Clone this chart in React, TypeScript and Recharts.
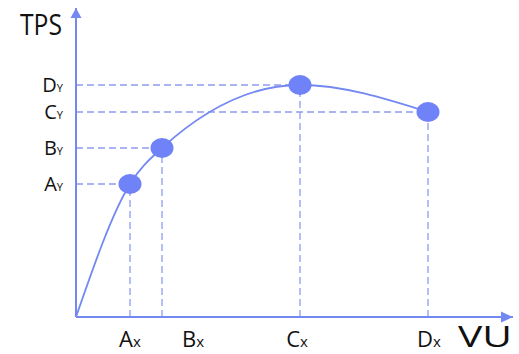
import React from "react";
import {
  ComposedChart,
  Line,
  XAxis,
  YAxis,
  ReferenceLine,
  ReferenceDot,
} from "recharts";

// Load (VU) vs throughput (TPS) curve, in relative units
const pointNames = ["A", "B", "C", "D"];
const vuValues = [54, 86, 224, 352];
const tpsValues = [133, 169, 232, 205];
const xTickLabels = ["A", "B", "C", "D"];
// TPS ticks are lettered from the bottom up
const yTickValues = [133, 169, 205, 232];
const yTickLabels = ["A", "B", "C", "D"];
const VU_MAX = 437;
const TPS_MAX = 309;

const curve = [{ x: 0, y: 0, name: "O" }].concat(
  pointNames.map((name, i) => ({ x: vuValues[i], y: tpsValues[i], name }))
);

const AXIS = "#7488f2";
const DASH = "#8e9cf0";
const DOT = "#6f82f8";
const FONT = "'Open Sans', 'DejaVu Sans', sans-serif";

// Bx sits a little to the right of its guide line
const xLabelShift: Record<string, number> = { A: 0, B: 31, C: -3, D: 1 };

const XTick = (props: any) => {
  const { x, y, payload } = props;
  const idx = vuValues.indexOf(payload.value);
  const letter = xTickLabels[idx];
  return (
    <text
      x={x + (xLabelShift[letter] || 0)}
      y={y}
      dy={30}
      textAnchor="middle"
      fill="#111"
      fontFamily={FONT}
    >
      <tspan fontSize={22}>{letter}</tspan>
      <tspan fontSize={15}>x</tspan>
    </text>
  );
};

const YTick = (props: any) => {
  const { x, y, payload } = props;
  const idx = yTickValues.indexOf(payload.value);
  const letter = yTickLabels[idx];
  return (
    <text x={x - 13} y={y} dy={7} textAnchor="end" fill="#111" fontFamily={FONT}>
      <tspan fontSize={20}>{letter}</tspan>
      <tspan fontSize={11}>Y</tspan>
    </text>
  );
};

const PointDot = (props: any) => {
  const { cx, cy, index } = props;
  if (index === 0 || cx == null) return <g key={`d${index}`} />;
  return <ellipse key={`d${index}`} cx={cx} cy={cy} rx={11.5} ry={10} fill={DOT} />;
};

const ArrowRight = (props: any) => {
  const { cx, cy } = props;
  return (
    <polygon
      points={`${cx},${cy} ${cx - 12},${cy - 5.5} ${cx - 12},${cy + 5.5}`}
      fill={AXIS}
    />
  );
};

const ArrowUp = (props: any) => {
  const { cx, cy } = props;
  return (
    <polygon
      points={`${cx},${cy} ${cx - 5.5},${cy + 10} ${cx + 5.5},${cy + 10}`}
      fill={AXIS}
    />
  );
};

export default function App() {
  return (
    <div style={{ position: "absolute", left: 0, top: 0, background: "#fff" }}>
      <ComposedChart
        width={519}
        height={354}
        data={curve}
        margin={{ top: 8, right: 6, bottom: 7, left: 16 }}
      >
        <XAxis
          type="number"
          dataKey="x"
          domain={[0, VU_MAX]}
          ticks={vuValues}
          tick={<XTick />}
          tickLine={false}
          tickSize={0}
          tickMargin={0}
          height={30}
          axisLine={{ stroke: AXIS, strokeWidth: 2 }}
          interval={0}
        />
        <YAxis
          type="number"
          domain={[0, TPS_MAX]}
          ticks={yTickValues}
          tick={<YTick />}
          tickLine={false}
          tickSize={0}
          tickMargin={0}
          width={60}
          axisLine={{ stroke: AXIS, strokeWidth: 2 }}
          interval={0}
        />
        {pointNames.map((name, i) => (
          <ReferenceLine
            key={`h${name}`}
            segment={[
              { x: 0, y: tpsValues[i] },
              { x: vuValues[i], y: tpsValues[i] },
            ]}
            stroke={DASH}
            strokeWidth={1.3}
            strokeDasharray="7 4"
          />
        ))}
        {pointNames.map((name, i) => (
          <ReferenceLine
            key={`v${name}`}
            segment={[
              { x: vuValues[i], y: 0 },
              { x: vuValues[i], y: tpsValues[i] },
            ]}
            stroke={DASH}
            strokeWidth={1.3}
            strokeDasharray="7 4"
          />
        ))}
        <Line
          type="monotone"
          dataKey="y"
          stroke={AXIS}
          strokeWidth={1.8}
          dot={<PointDot />}
          activeDot={false}
          isAnimationActive={false}
        />
        <ReferenceDot x={VU_MAX} y={0} r={0} shape={<ArrowRight />} ifOverflow="visible" />
        <ReferenceDot x={0} y={TPS_MAX} r={0} shape={<ArrowUp />} ifOverflow="visible" />
        <text x={20} y={35} fontSize={30} fontFamily={FONT} fill="#111" textLength={42} lengthAdjust="spacingAndGlyphs">
          TPS
        </text>
        <text x={458} y={347} fontSize={29} fontFamily={FONT} fill="#111" textLength={54} lengthAdjust="spacingAndGlyphs">
          VU
        </text>
      </ComposedChart>
    </div>
  );
}
